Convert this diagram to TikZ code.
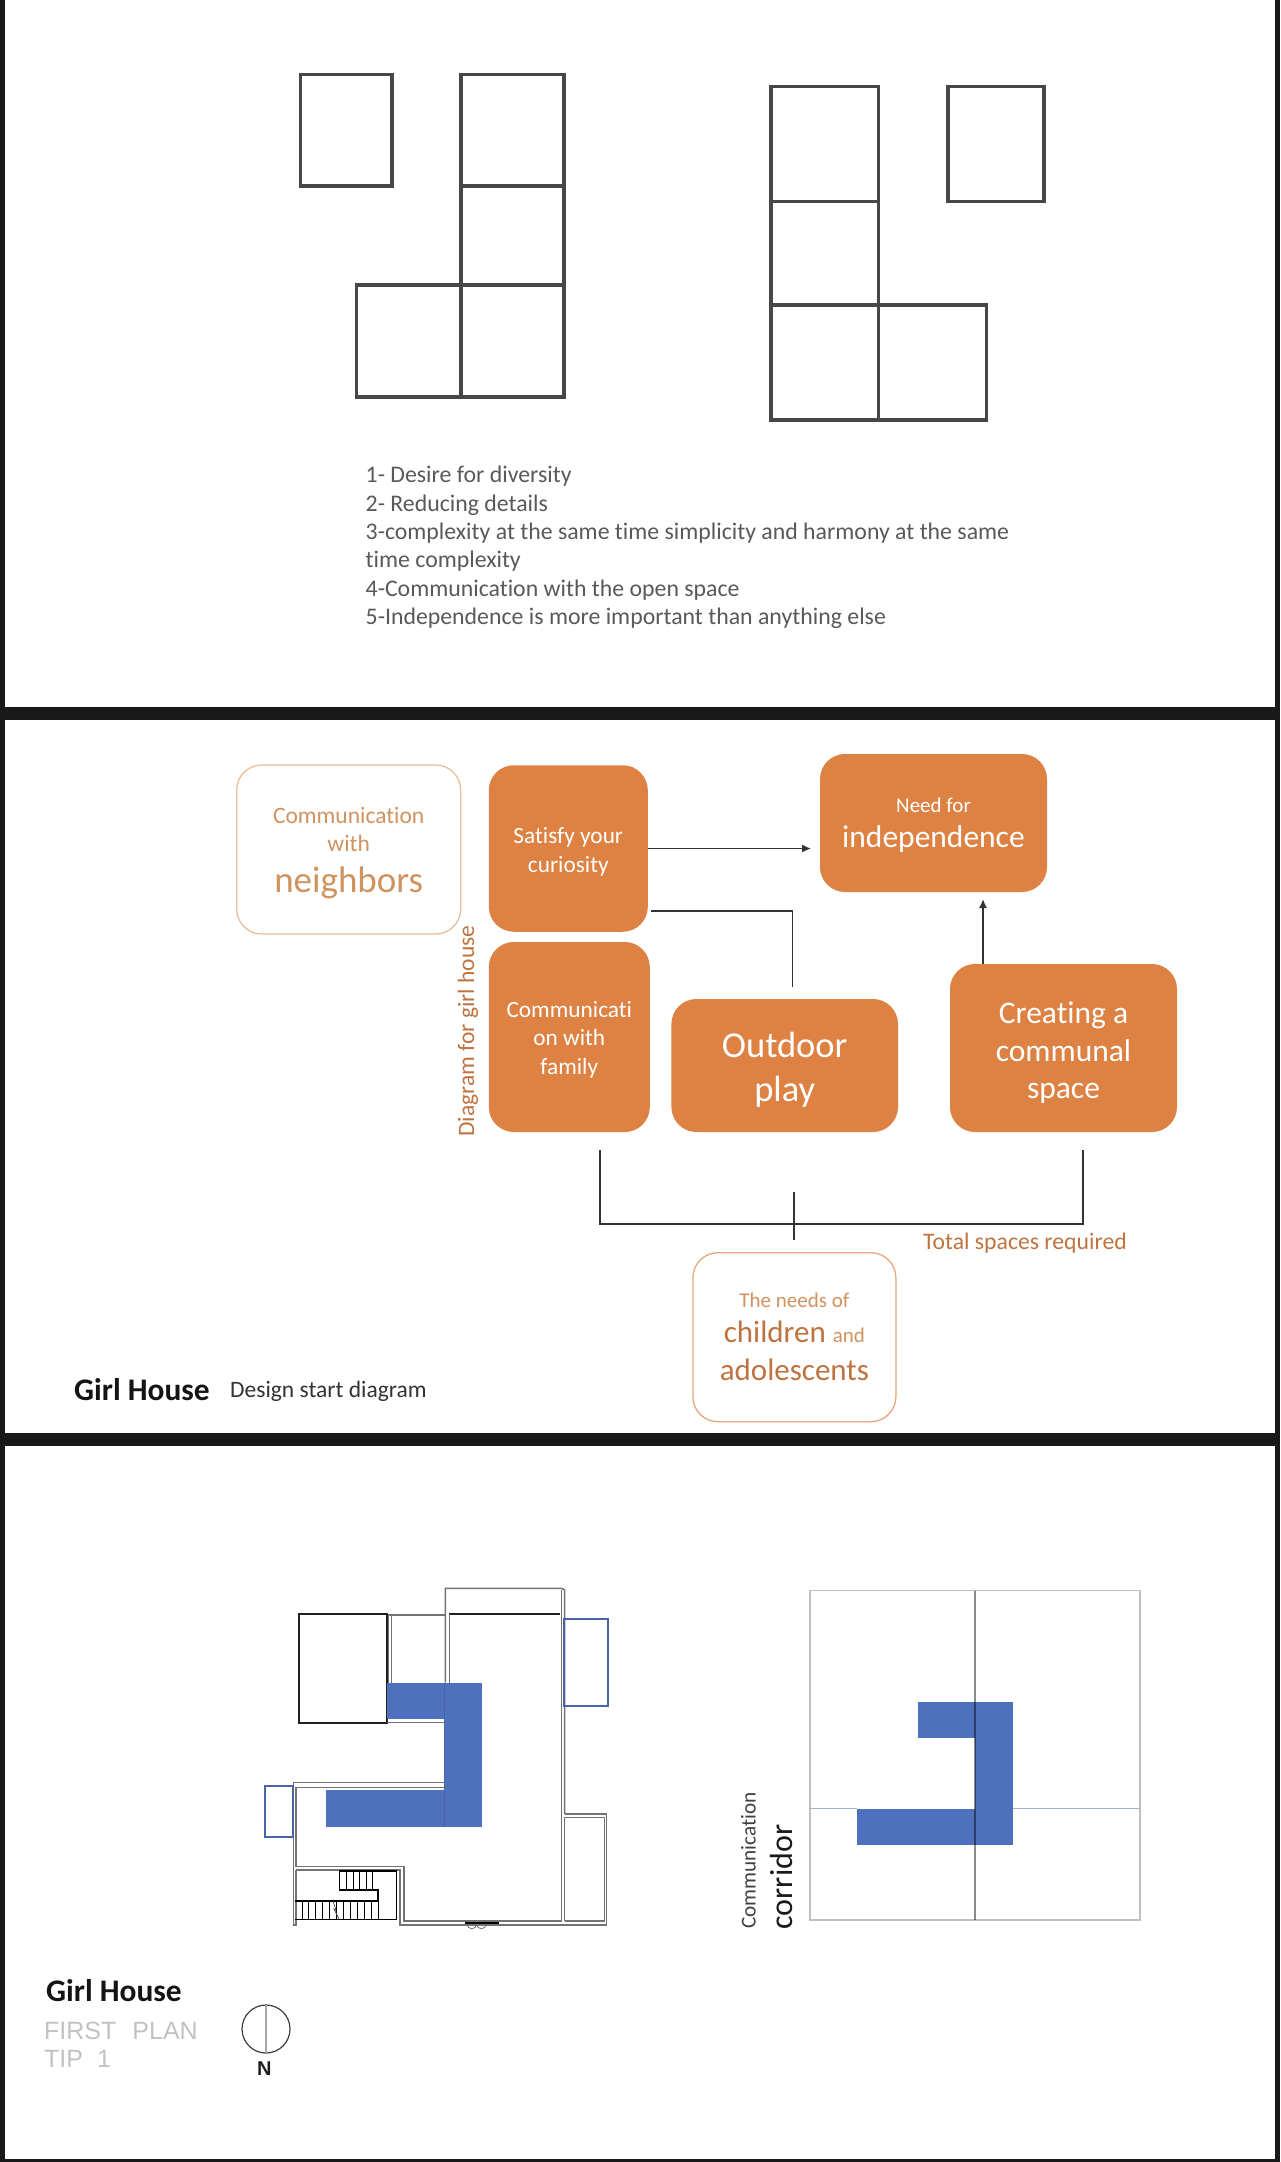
\documentclass[tikz,border=0pt]{standalone}
\usepackage{fontspec}
\setmainfont[Ligatures=NoCommon]{Carlito}
\newfontfamily\planfont{Liberation Sans}
\usetikzlibrary{arrows.meta}
\definecolor{boxorange}{HTML}{DE8244}
\definecolor{paleorange}{HTML}{E9BE9C}
\definecolor{textorange}{HTML}{D0925F}
\definecolor{deeporange}{HTML}{BF7340}
\definecolor{corridorblue}{HTML}{4E71BE}
\definecolor{edgeblue}{HTML}{4A64A8}

\begin{document}
\begin{tikzpicture}[x=1pt, y=-1pt,
    cell/.style = {draw=black!72, line width=3.6pt},
    filledbox/.style = {rectangle, rounded corners=25pt, fill=boxorange, outer sep=0pt, inner sep=0pt},
    openbox/.style = {rectangle, rounded corners=25pt, draw=paleorange, line width=1.3pt, fill=white, outer sep=0pt, inner sep=0pt},
    boxtext/.style = {text=white, align=center, inner sep=0pt},
    link/.style = {draw=black!80, line width=1.4pt},
    tipped/.style = {link, -{Latex[length=9pt, width=8pt]}},
    wall/.style = {draw=black!55, line width=1.5pt},
    inkline/.style = {draw=black!88, line width=1.7pt},
    corridor/.style = {fill=corridorblue},
    balcony/.style = {draw=edgeblue, line width=2pt}]
\useasboundingbox (0,0) rectangle (1280,2162);

\fill[black!90] (0,0) rectangle (1280,2162);
\fill[white] (5,0) rectangle (1275,707);
\fill[white] (5,720) rectangle (1275,1433);
\fill[white] (5,1446) rectangle (1275,2159);

\draw[cell] (300.5,74.7) rectangle (392,186);
\draw[cell] (461,74.7) rectangle (564,186);
\draw[cell] (461,186) rectangle (564,285);
\draw[cell] (461,285) rectangle (564,396.7);
\draw[cell] (356.5,285) rectangle (461,396.7);

\draw[cell] (771,86.7) rectangle (878.5,201.7);
\draw[cell] (771,201.7) rectangle (878.5,305);
\draw[cell] (771,305) rectangle (878.5,420);
\draw[cell] (878.5,305) rectangle (986.6,420);
\draw[cell] (948,86.7) rectangle (1044,201.7);

\node[anchor=north west, align=left, inner sep=0pt, text=black!65,
      font=\fontsize{23.8}{28.4}\selectfont] (aims) at (365.5,466) {1- Desire for diversity\\
2- Reducing details\\
3-complexity at the same time simplicity and harmony at the same\\
time complexity\\
4-Communication with the open space\\
5-Independence is more important than anything else};

\node[openbox, minimum width=224pt, minimum height=169pt] (neighbors) at (348.7,849.5) {};
\node[text=textorange, align=center, font=\fontsize{23.5}{28}\selectfont] (neighborstext) at (348.7,829) {Communication\\with};
\node[text=textorange, font=\fontsize{37}{40}\selectfont] (neighborsword) at (348.7,882.5) {neighbors};

\node[filledbox, minimum width=159pt, minimum height=166.5pt] (satisfy) at (568.3,848.5) {};
\node[boxtext, font=\fontsize{23.3}{29}\selectfont] (satisfytext) at (568.3,852) {Satisfy your\\curiosity};
\node[filledbox, minimum width=161pt, minimum height=190pt] (family) at (569.3,1037) {};
\node[boxtext, font=\fontsize{23.3}{28.5}\selectfont] (familytext) at (569.3,1039.5) {Communicati\\on with\\family};
\node[filledbox, minimum width=227pt, minimum height=138pt] (need) at (933.5,823) {};
\node[boxtext, font=\fontsize{21}{24}\selectfont] (needfor) at (933.5,805) {Need for};
\node[boxtext, font=\fontsize{31.5}{34}\selectfont] (independence) at (933.5,839) {independence};
\node[filledbox, minimum width=226.6pt, minimum height=133pt] (outdoor) at (784.7,1065.5) {};
\node[boxtext, font=\fontsize{36.5}{44}\selectfont] (outdoortext) at (784.7,1069.5) {Outdoor\\play};
\node[filledbox, minimum width=227pt, minimum height=168pt] (communal) at (1063.5,1048) {};
\node[boxtext, font=\fontsize{31.5}{37.5}\selectfont] (communaltext) at (1063.5,1053) {Creating a\\communal\\space};
\node[rotate=90, text=deeporange, font=\fontsize{23.5}{26}\selectfont] (diagramlabel) at (468,1031) {Diagram for girl house};

\coordinate (curiosityfoot) at (651.4,911);
\coordinate (playtop) at (792.5,987);
\coordinate (communaltop) at (983,964);
\coordinate (familyend) at (599.8,1150);
\coordinate (communalend) at (1083,1150);
\coordinate (rail) at (794,1224);
\coordinate (ticktop) at (794,1191.7);
\coordinate (tickfoot) at (794,1240);

\draw[tipped, shorten >=9pt] (satisfy.east) -- (satisfy.east -| need.west);
\draw[link] (curiosityfoot) -| (playtop);
\draw[tipped, shorten >=7pt] (communaltop) -- (communaltop |- need.south);
\draw[link] (familyend) |- (communalend |- rail) -- (communalend);
\draw[link, line width=1.8pt] (ticktop) -- (tickfoot);

\node[text=deeporange, font=\fontsize{23.7}{26}\selectfont] (spaces) at (1025,1243) {Total spaces required};
\node[openbox, draw=boxorange!70, minimum width=203pt, minimum height=169pt] (needs) at (794.4,1337.2) {};
\node[text=textorange, font=\fontsize{21}{24}\selectfont] (needsof) at (794.4,1300.5) {The needs of};
\node[text=deeporange, font=\fontsize{31}{34}\selectfont] (children) at (794.4,1331.5) {children {\fontsize{21}{24}\selectfont\color{textorange} and}};
\node[text=deeporange, font=\fontsize{31}{34}\selectfont] (adolescents) at (794.4,1370) {adolescents};

\node[anchor=west, inner sep=0pt, text=black!92, font=\bfseries\fontsize{31.4}{34}\selectfont] (title) at (74,1390) {Girl House};
\node[anchor=west, inner sep=0pt, text=black!80, font=\fontsize{23.5}{26}\selectfont] (subtitle) at (230,1391) {Design start diagram};

\draw[inkline] (299.3,1614.3) rectangle (387.3,1723.3);
\draw[inkline] (449.3,1614.3) -- (560,1614.3);

\draw[wall] (445.3,1682.7) -- (445.3,1588.3) -- (561.7,1588.3) -- (564.7,1590) -- (564.7,1814);
\draw[wall] (449.3,1682.7) -- (449.3,1614.3);
\draw[wall] (561.7,1590) -- (561.7,1921);
\draw[wall] (388.3,1682.7) -- (388.3,1615) -- (445.3,1615);
\draw[wall] (391.3,1682.7) -- (391.3,1615);
\draw[wall] (387.3,1722.7) -- (444,1722.7);
\draw[wall] (444,1782.7) -- (293.3,1782.7) -- (293.3,1925);
\draw[wall] (444,1787.3) -- (296,1787.3) -- (296,1866.7) -- (404,1866.7) -- (404,1921) -- (561.7,1921);
\draw[wall] (296,1870) -- (400,1870) -- (400,1925) -- (606.7,1925) -- (606.7,1814) -- (564.7,1814);
\draw[wall] (564.7,1817.3) -- (604.3,1817.3) -- (604.3,1921) -- (564.7,1921);
\draw[wall] (564.7,1817.3) -- (564.7,1921);
\draw[wall] (293.3,1925) -- (296,1925) -- (296,1870);

\fill[corridor] (386.7,1682.7) rectangle (444,1719.3);
\fill[corridor] (325.7,1790) rectangle (444,1826.7);
\fill[corridor] (444,1682.7) rectangle (481.7,1826.7);
\draw[edgeblue, line width=0.8pt] (444,1682.7) -- (444,1826.7);

\draw[balcony] (564.3,1619) rectangle (608.3,1706);
\draw[balcony] (264.7,1786) rectangle (293.3,1836.7);

\foreach \xpos in {339,346,353,359.3,366,372.7}
  \draw[black, line width=0.8pt] (\xpos,1871) -- (\xpos,1890);
\foreach \xpos in {302,308.7,315.3,322,329,336,343,350,357,364,371,378.3}
  \draw[black, line width=0.8pt] (\xpos,1900.7) -- (\xpos,1919.3);
\draw[black, line width=2.2pt] (339,1871) -- (396.7,1871);
\draw[black, line width=2.2pt] (339,1890) -- (378.3,1890) -- (378.3,1900.7) -- (295,1900.7);
\draw[black, line width=1pt] (396.7,1871) -- (396.7,1919.3) -- (295,1919.3);
\draw[black!70, line width=0.7pt] (333,1901) -- (336,1910) -- (334,1909) -- (339,1919);

\draw[black, line width=2pt] (465,1922.7) -- (499.3,1922.7);
\draw[black!60, line width=0.7pt] (467,1924) arc (180:360:4.8pt);
\draw[black!60, line width=0.7pt] (476.6,1924) arc (180:360:4.8pt);

\node[circle, draw=black!75, line width=1.2pt, minimum size=48pt, inner sep=0pt, outer sep=0pt] (compass) at (266,2029) {};
\draw[draw=black!35, line width=1.4pt] (compass.north) -- (compass.south);
\node[text=black!88, font=\planfont\bfseries\fontsize{20}{22}\selectfont] (north) at (264.3,2069) {N};
\node[anchor=west, inner sep=0pt, text=black!92, font=\bfseries\fontsize{31.4}{34}\selectfont] (plantitle) at (46,1990.7) {Girl House};
\node[anchor=west, inner sep=0pt, text=black!24, font=\planfont\fontsize{25}{28}\selectfont] (firstplan) at (44,2030.7) {FIRST\hspace{16pt}PLAN};
\node[anchor=west, inner sep=0pt, text=black!24, font=\planfont\fontsize{25}{28}\selectfont] (tipone) at (44,2059) {TIP\hspace{14pt}1};

\fill[corridor] (918.3,1701.7) rectangle (975,1738);
\fill[corridor] (857.3,1808.7) rectangle (975,1845);
\fill[corridor] (975,1701.7) rectangle (1013.3,1845);
\node[draw=black!25, line width=1.6pt, minimum width=330pt, minimum height=329.3pt, inner sep=0pt, outer sep=0pt] (frame) at (975,1755.3) {};
\draw[draw=edgeblue!50, line width=1pt] (frame.west |- 0,1808.7) -- (857.3,1808.7);
\draw[draw=edgeblue!50, line width=1pt] (1013.3,1808.7) -- (frame.east |- 0,1808.7);
\draw[draw=black, opacity=0.45, line width=1.3pt] (frame.north) -- (frame.south);
\node[rotate=90, text=black!75, font=\fontsize{21.2}{24}\selectfont] (commlabel) at (748.3,1860.5) {Communication};
\node[rotate=90, text=black!90, font=\fontsize{32}{36}\selectfont] (corridorlabel) at (781,1877) {corridor};
\end{tikzpicture}
\end{document}
